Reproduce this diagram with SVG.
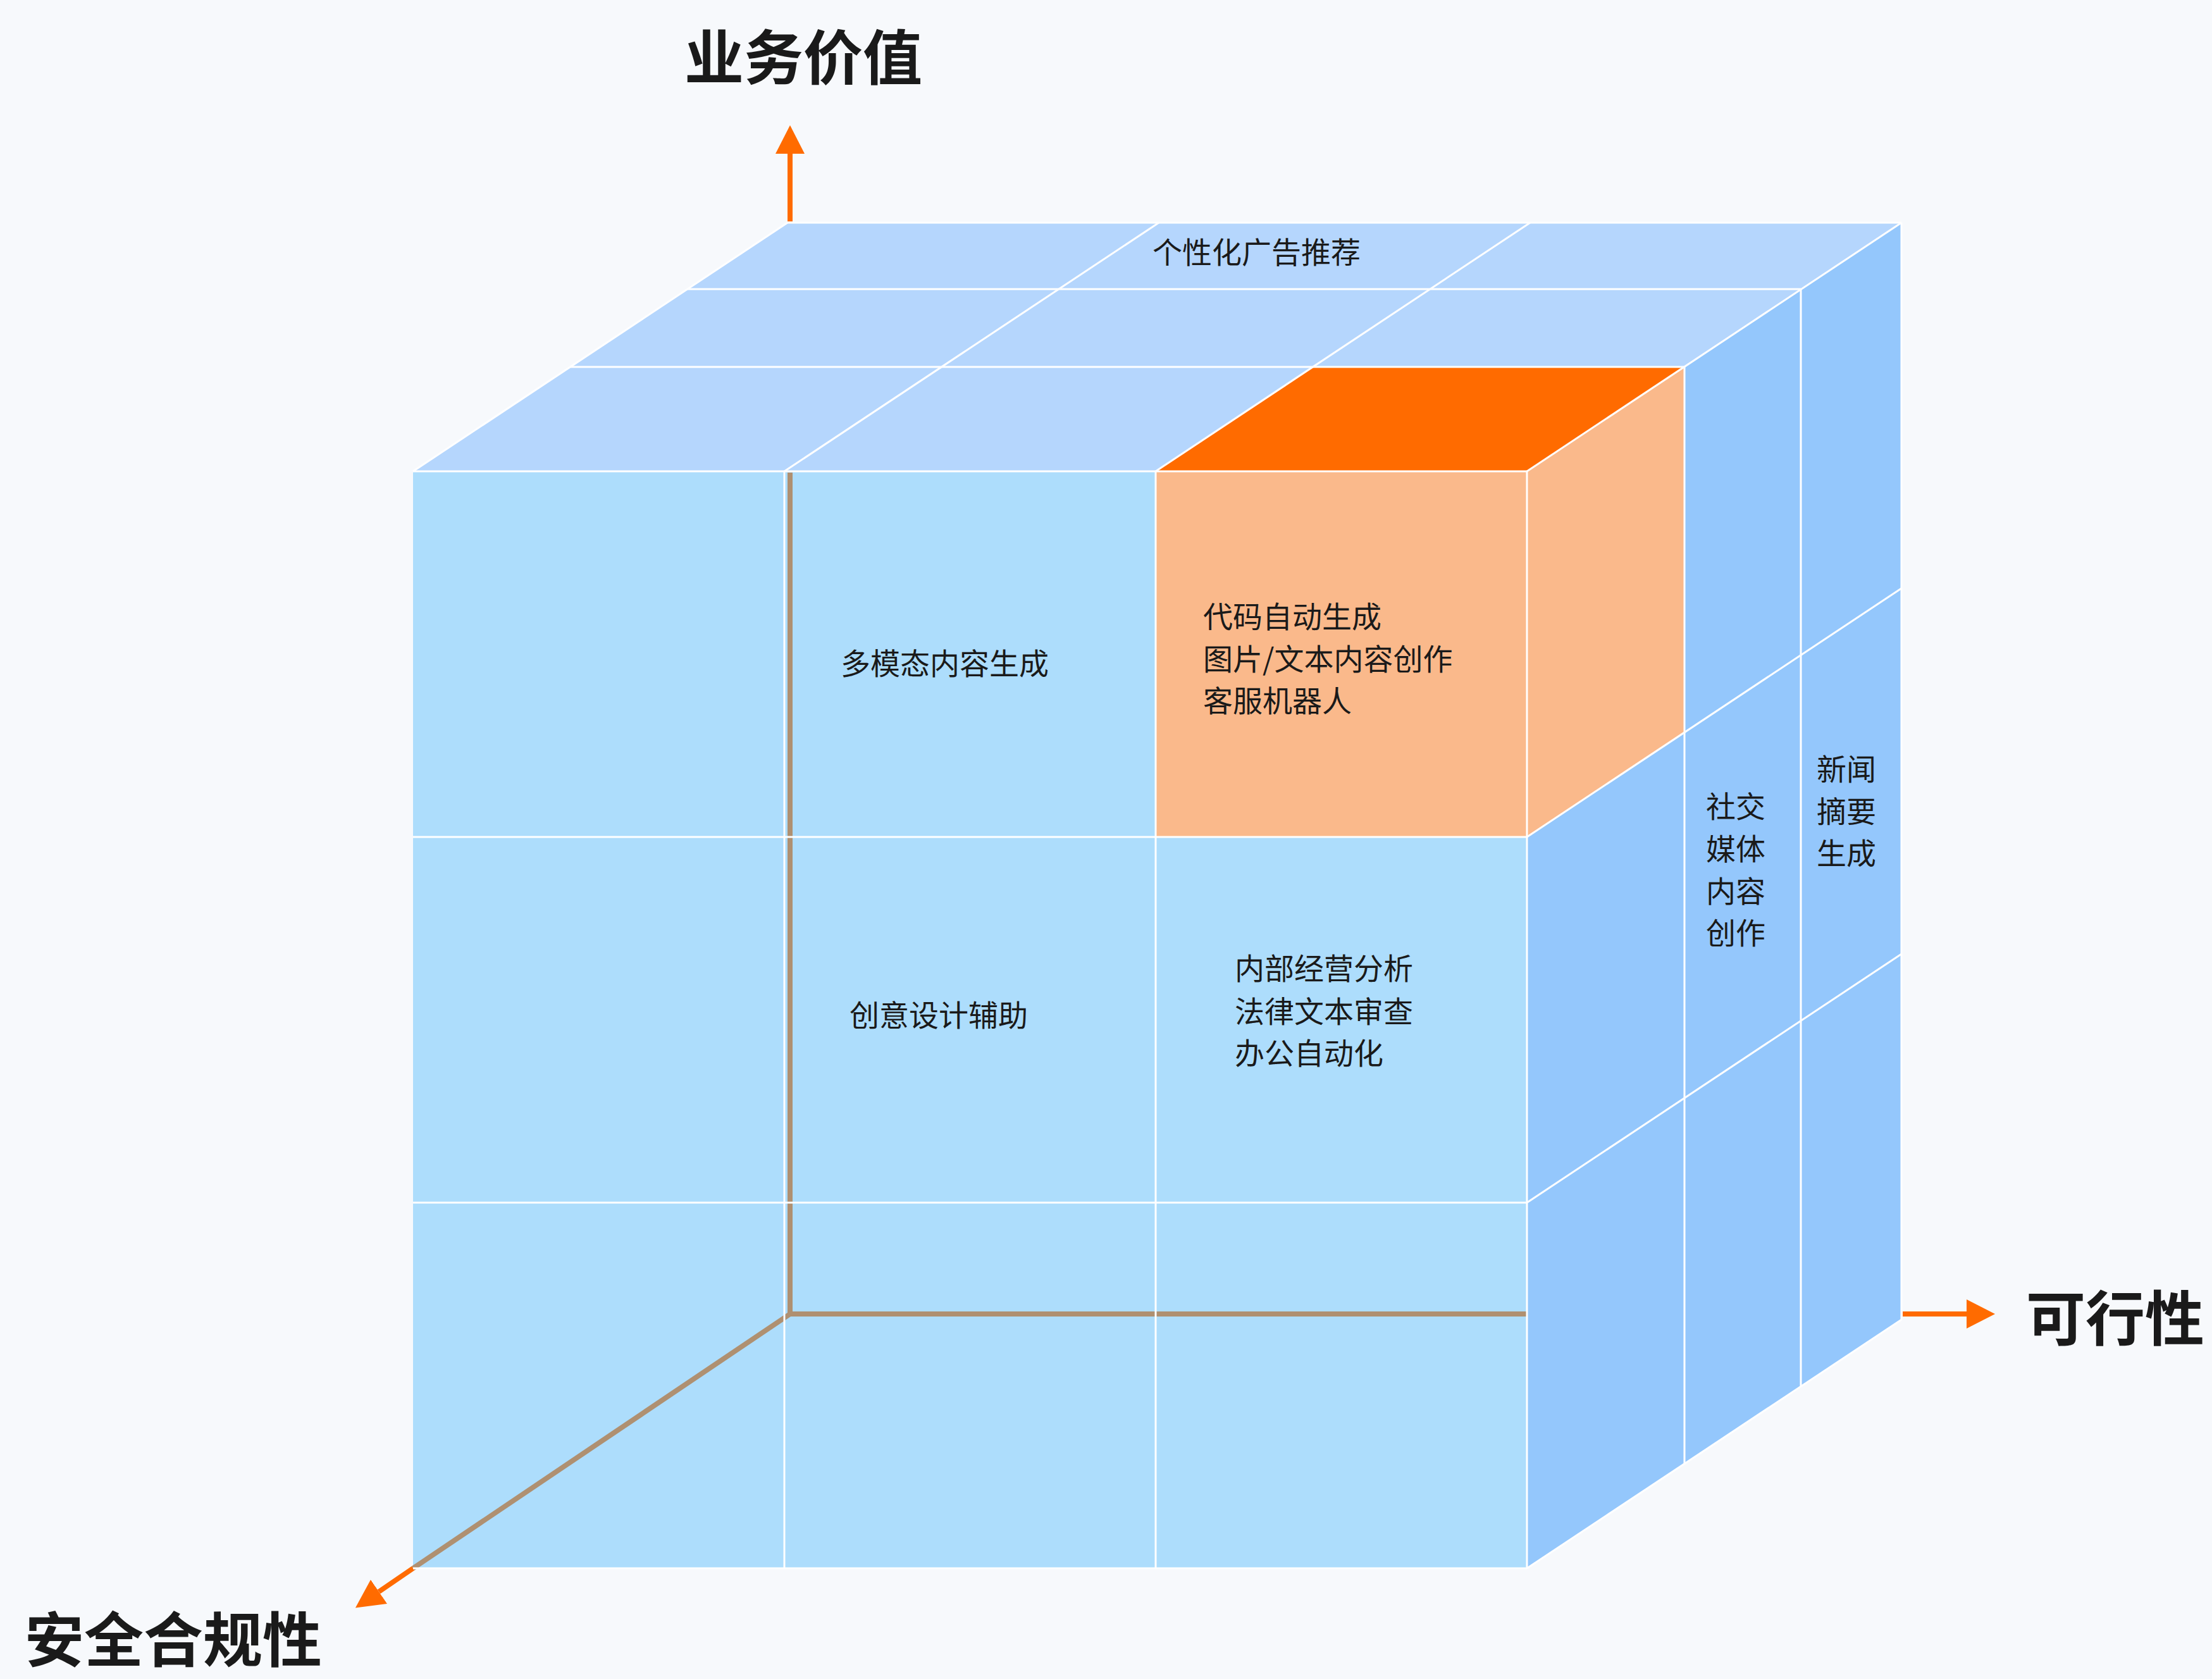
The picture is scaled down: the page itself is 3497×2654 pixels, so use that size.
<svg xmlns="http://www.w3.org/2000/svg" width="3497" height="2654" viewBox="0 0 3497 2654">
<style>
.lbl{font-family:"Noto Sans CJK SC","Noto Sans",sans-serif;font-size:47px;fill:#1a1a1a}
.ttl{font-family:"Noto Sans CJK SC","Noto Sans",sans-serif;font-size:94px;font-weight:700;fill:#1a1a1a}
.grid{stroke:#ffffff;stroke-width:3;fill:none}
.axis{stroke:#AF9071;stroke-width:8;fill:none}
.arrow{stroke:#FF6B00;stroke-width:8;fill:none}
.front{fill:#ADDDFC}
.top{fill:#B5D6FD}
.right{fill:#94C7FC}
</style>
<defs>
<marker id="ah" viewBox="0 0 45 46" refX="0" refY="23" markerWidth="45" markerHeight="46" markerUnits="userSpaceOnUse" orient="auto">
<path d="M0,0 L45,23 L0,46 Z" fill="#FF6B00"/>
</marker>
</defs>
<rect x="0" y="0" width="3497" height="2654" fill="#F7F9FC"/>
<g id="cube-faces">
<polygon class="top" points="653,745 2414,745 3006,352 1245,352"/>
<polygon class="right" points="2414,745 3006,352 3006,2086 2414,2479"/>
<rect class="front" x="653" y="745" width="1761" height="1734"/>
</g>
<g id="node-multimodal">
<rect class="front" x="1240" y="745" width="587" height="578"/>
<text class="lbl" x="1329" y="1066">多模态内容生成</text>
</g>
<g id="node-creative">
<rect class="front" x="1240" y="1323" width="587" height="578"/>
<text class="lbl" x="1343" y="1622">创意设计辅助</text>
</g>
<g id="node-highlight">
<rect x="1827" y="745" width="587" height="578" fill="#FAB98B"/>
<polygon points="1827,745 2414,745 2663,580 2076,580" fill="#FF6B00"/>
<polygon points="2414,745 2663,580 2663,1158 2414,1323" fill="#FAB98B"/>
<text class="lbl" x="1902" y="992">代码自动生成</text>
<text class="lbl" x="1902" y="1059">图片/文本内容创作</text>
<text class="lbl" x="1902" y="1125">客服机器人</text>
</g>
<g id="node-internal">
<rect class="front" x="1827" y="1323" width="587" height="578"/>
<text class="lbl" x="1952" y="1548">内部经营分析</text>
<text class="lbl" x="1952" y="1616">法律文本审查</text>
<text class="lbl" x="1952" y="1682">办公自动化</text>
</g>
<g id="node-ads">
<polygon class="top" points="1673,457 2260,457 2419,352 1832,352"/>
<text class="lbl" x="1822" y="416">个性化广告推荐</text>
</g>
<g id="node-social">
<polygon class="right" points="2663,1158 2847,1036 2847,1614 2663,1736"/>
<text class="lbl" x="2697" y="1292">社交</text>
<text class="lbl" x="2697" y="1359">媒体</text>
<text class="lbl" x="2697" y="1426">内容</text>
<text class="lbl" x="2697" y="1492">创作</text>
</g>
<g id="node-news">
<polygon class="right" points="2847,1036 3006,930 3006,1508 2847,1614"/>
<text class="lbl" x="2872" y="1233">新闻</text>
<text class="lbl" x="2872" y="1300">摘要</text>
<text class="lbl" x="2872" y="1366">生成</text>
</g>
<g id="connectors">
<line class="axis" x1="1249" y1="747" x2="1249" y2="2077"/>
<line class="axis" x1="1245" y1="2077" x2="2414" y2="2077"/>
<line class="axis" x1="1249" y1="2077" x2="653" y2="2479"/>
<line class="arrow" x1="1249" y1="350" x2="1249" y2="243" marker-end="url(#ah)"/>
<line class="arrow" x1="3008" y1="2077" x2="3109" y2="2077" marker-end="url(#ah)"/>
<line class="arrow" x1="653" y1="2479" x2="599" y2="2516" marker-end="url(#ah)"/>
</g>
<g id="grid-lines" class="grid">
<line x1="653" y1="745" x2="2414" y2="745"/>
<line x1="653" y1="1323" x2="2414" y2="1323"/>
<line x1="653" y1="1901" x2="2414" y2="1901"/>
<line x1="653" y1="2479" x2="2414" y2="2479"/>
<line x1="1240" y1="745" x2="1240" y2="2479"/>
<line x1="1827" y1="745" x2="1827" y2="2479"/>
<line x1="2414" y1="745" x2="2414" y2="2479"/>
<line x1="902" y1="580" x2="2663" y2="580"/>
<line x1="1086" y1="457" x2="2847" y2="457"/>
<line x1="1245" y1="352" x2="3006" y2="352"/>
<line x1="653" y1="745" x2="1245" y2="352"/>
<line x1="1240" y1="745" x2="1832" y2="352"/>
<line x1="1827" y1="745" x2="2419" y2="352"/>
<line x1="2414" y1="745" x2="3006" y2="352"/>
<line x1="2663" y1="580" x2="2663" y2="2314"/>
<line x1="2847" y1="457" x2="2847" y2="2191"/>
<line x1="3006" y1="352" x2="3006" y2="2086"/>
<line x1="2414" y1="1323" x2="3006" y2="930"/>
<line x1="2414" y1="1901" x2="3006" y2="1508"/>
<line x1="2414" y1="2479" x2="3006" y2="2086"/>
</g>
<g id="axis-titles">
<text class="ttl" x="1082" y="126">业务价值</text>
<text class="ttl" x="3203" y="2119">可行性</text>
<text class="ttl" x="39" y="2627">安全合规性</text>
</g>
</svg>
